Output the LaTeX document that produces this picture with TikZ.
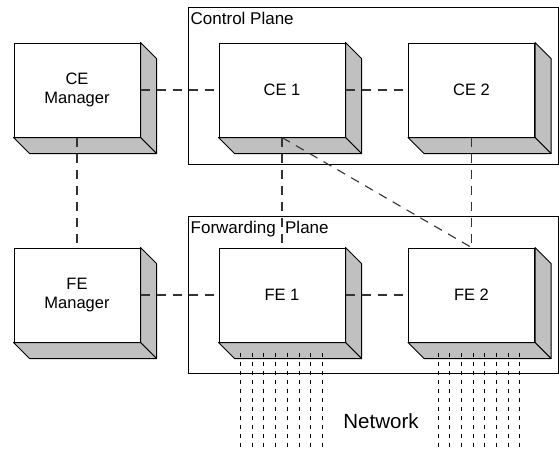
\documentclass[tikz,border=0pt]{standalone}
\usepackage{fontspec}
\setmainfont{Liberation Sans}
\usetikzlibrary{calc}
\definecolor{facegray}{RGB}{192,192,192}
\definecolor{linkgray}{RGB}{51,51,51}

\begin{document}
\begin{tikzpicture}[x=1pt, y=-1pt,
				unit/.style=		{rectangle, draw=black, fill=white, line width=1pt, inner sep=0pt, minimum width=126pt, minimum height=94pt, align=center, font=\fontsize{16.5}{19}\selectfont},
				face/.style=		{draw=black, fill=facegray, line width=1pt, line join=round},
				plane/.style=		{rectangle, draw=black, line width=1pt, inner sep=0pt, minimum width=370pt, minimum height=157pt},
				planelabel/.style=	{anchor=north west, inner sep=0pt, font=\fontsize{17}{20}\selectfont},
				link/.style=		{draw=linkgray, line width=1.1pt, dash pattern=on 9pt off 7pt},
				wire/.style=		{draw=black, line width=1pt, dash pattern=on 4pt off 5pt}]
	\useasboundingbox (0,0) rectangle (559,451);
	\def\depth{16}
	\def\wiregap{11.7}

	% planes
	\node[plane] (CP) at (373,85.5) {};
	\node[plane] (FP) at (373,294.5) {};
	\node[planelabel] (CPlabel) at ($(CP.north west)+(3,5)$) {Control Plane};
	\node[planelabel] (FPlabel) at ($(FP.north west)+(3,5)$) {Forwarding~ Plane};

	% units
	\node[unit] (CEM) at (77,90) {CE\\Manager};
	\node[unit] (CE1) at (282,90) {CE 1};
	\node[unit] (CE2) at (471.5,90) {CE 2};
	\node[unit] (FEM) at (77,295) {FE\\Manager};
	\node[unit] (FE1) at (282,295) {FE 1};
	\node[unit] (FE2) at (471.5,295) {FE 2};

	\foreach \u in {CEM,CE1,CE2,FEM,FE1,FE2} {
		\draw[face] (\u.north east) -- ++(\depth,\depth) -- ($(\u.south east)+(\depth,\depth)$) -- (\u.south east) -- cycle;
		\draw[face] (\u.south west) -- ($(\u.south west)+(\depth,\depth)$) -- ($(\u.south east)+(\depth,\depth)$) -- (\u.south east) -- cycle;
	}

	% links
	\draw[link] (CEM.east) -- (CE1.west);
	\draw[link] (CE1.east) -- (CE2.west);
	\draw[link] (FEM.east) -- (FE1.west);
	\draw[link] (FE1.east) -- (FE2.west);
	\draw[link] (CEM.south) -- (FEM.north);
	\draw[link] (CE1.south) -- (FE1.north);
	\draw[link] (CE1.south) -- (FE2.north);
	\draw[link] (CE2.south) -- (FE2.north);

	% network
	\foreach \i in {0,...,7} {
		\coordinate (W1\i) at ($(FE1.south west)+(22+\i*\wiregap,10)$);
		\coordinate (W2\i) at ($(FE2.south west)+(30+\i*\wiregap,10)$);
		\draw[wire] (W1\i) -- ++(0,97);
		\draw[wire] (W2\i) -- ++(0,97);
	}
	\node[font=\fontsize{20.5}{24}\selectfont] (NET) at (381,421) {Network};
\end{tikzpicture}
\end{document}
